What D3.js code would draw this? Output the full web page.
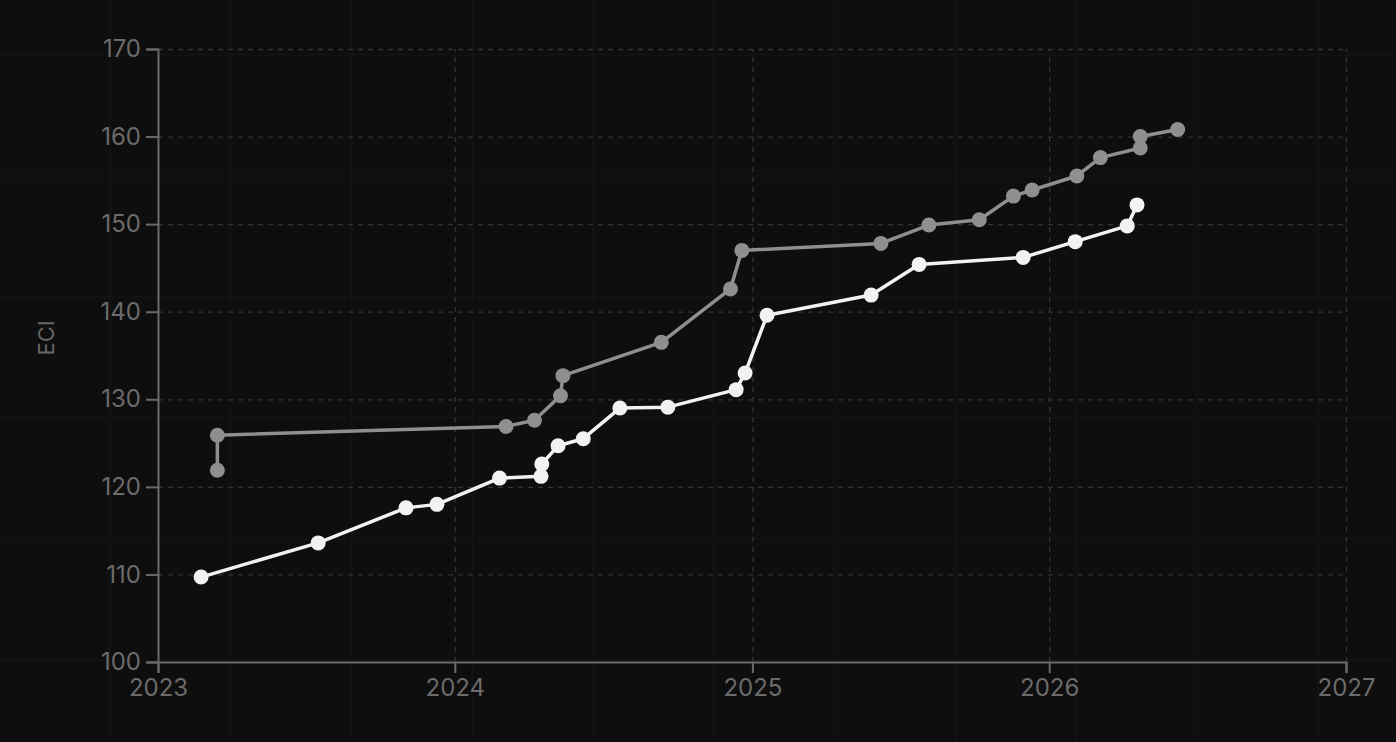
<!DOCTYPE html>
<html>
<head>
<meta charset="utf-8">
<script src="https://cdn.jsdelivr.net/npm/d3@7"></script>
<style>
  html, body { margin: 0; padding: 0; background: #0e0e0e; }
  svg { display: block; }
  .axis text { font-family: Inter, "Noto Sans", sans-serif; font-size: 24px; font-weight: 400; fill: #6b6b6b; }
  .axis path, .axis line { stroke: #6a6a6a; stroke-width: 2; }
  .grid line { stroke: #333; stroke-dasharray: 5 5; stroke-width: 1.3; }
  .grid path { display: none; }
</style>
</head>
<body>
<div id="chart"></div>
<script>
// series A (grey)
var greyDates = ["2023-03-15", "2023-03-15", "2024-03-04", "2024-04-08", "2024-05-10", "2024-05-13",
  "2024-09-11", "2024-12-05", "2024-12-19", "2025-06-08", "2025-08-06", "2025-10-07",
  "2025-11-18", "2025-12-11", "2026-02-04", "2026-03-05", "2026-04-23", "2026-04-23", "2026-06-08"];
var greyValues = [121.9, 125.9, 126.9, 127.6, 130.4, 132.7,
  136.5, 142.6, 147.0, 147.8, 149.9, 150.5,
  153.2, 153.9, 155.5, 157.6, 158.7, 160.0, 160.8];

// series B (white)
var whiteDates = ["2023-02-23", "2023-07-17", "2023-11-02", "2023-12-10", "2024-02-25", "2024-04-16",
  "2024-04-17", "2024-05-07", "2024-06-07", "2024-07-22", "2024-09-19", "2024-12-12",
  "2024-12-23", "2025-01-19", "2025-05-27", "2025-07-25", "2025-11-30", "2026-02-02",
  "2026-04-07", "2026-04-19"];
var whiteValues = [109.7, 113.6, 117.6, 118.0, 121.0, 121.2,
  122.6, 124.7, 125.5, 129.0, 129.1, 131.1,
  133.0, 139.6, 141.9, 145.4, 146.2, 148.0,
  149.8, 152.2];

var yTicks = [100, 110, 120, 130, 140, 150, 160, 170];
var xTickYears = [2023, 2024, 2025, 2026, 2027];
var yLabel = "ECI";

var W = 1396, H = 742;
var margin = {top: 49, right: 50, bottom: 80, left: 158},
    width = W - margin.left - margin.right,
    height = H - margin.top - margin.bottom;

var parse = d3.timeParse("%Y-%m-%d");
var grey = greyDates.map(function(d, i) { return {date: parse(d), value: greyValues[i]}; });
var white = whiteDates.map(function(d, i) { return {date: parse(d), value: whiteValues[i]}; });

var svg = d3.select("#chart").append("svg")
    .attr("width", W)
    .attr("height", H);

svg.append("rect").attr("width", W).attr("height", H).attr("fill", "#0e0e0e");

// faint background texture
var deco = svg.append("g").attr("stroke", "#141414").attr("stroke-width", 1.5);
d3.range(110, W, 120.8).forEach(function(x) {
  deco.append("line").attr("x1", x).attr("x2", x).attr("y1", 0).attr("y2", H);
});
d3.range(55, H, 121).forEach(function(y) {
  deco.append("line").attr("x1", 0).attr("x2", W).attr("y1", y).attr("y2", y);
});

var x = d3.scaleTime()
    .domain([new Date(2023, 0, 1), new Date(2027, 0, 1)])
    .range([0, width]);
var y = d3.scaleLinear()
    .domain([100, 170])
    .range([height, 0]);

var g = svg.append("g")
    .attr("transform", "translate(" + margin.left + "," + margin.top + ")");

var xTicks = xTickYears.map(function(yr) { return new Date(yr, 0, 1); });

// grid
g.append("g")
    .attr("class", "grid")
    .call(d3.axisLeft(y).tickValues(yTicks.slice(1)).tickSize(-width).tickFormat(""));
g.append("g")
    .attr("class", "grid")
    .attr("transform", "translate(0," + height + ")")
    .call(d3.axisBottom(x).tickValues(xTicks.slice(1)).tickSize(-height).tickFormat(""));

// axes
g.append("g")
    .attr("class", "axis axis--x")
    .attr("transform", "translate(0," + height + ")")
    .call(d3.axisBottom(x).tickValues(xTicks).tickSizeOuter(0).tickSize(11).tickFormat(d3.timeFormat("%Y")))
    .selectAll("text")
      .attr("y", 10)
      .attr("dy", "1em");

g.append("g")
    .attr("class", "axis axis--y")
    .call(d3.axisLeft(y).tickValues(yTicks).tickSizeOuter(0).tickSize(12))
    .selectAll("text")
      .attr("x", -17);

g.append("text")
    .attr("transform", "rotate(-90)")
    .attr("x", -(338 - margin.top))
    .attr("y", 46 - margin.left)
    .attr("dy", "0.35em")
    .attr("text-anchor", "middle")
    .attr("font-family", "Inter, 'Noto Sans', sans-serif")
    .attr("font-size", 22)
    .attr("fill", "#666")
    .text(yLabel);

var line = d3.line()
    .x(function(d) { return x(d.date); })
    .y(function(d) { return y(d.value); });

function drawSeries(data, color) {
  g.append("path")
      .datum(data)
      .attr("fill", "none")
      .attr("stroke", color)
      .attr("stroke-width", 3.5)
      .attr("stroke-linejoin", "round")
      .attr("d", line);

  g.selectAll(null)
    .data(data)
    .enter()
      .append("circle")
      .attr("cx", function(d) { return x(d.date); })
      .attr("cy", function(d) { return y(d.value); })
      .attr("r", 7.5)
      .attr("fill", color);
}

drawSeries(grey, "#8f8f8f");
drawSeries(white, "#f2f2f2");
</script>
</body>
</html>
